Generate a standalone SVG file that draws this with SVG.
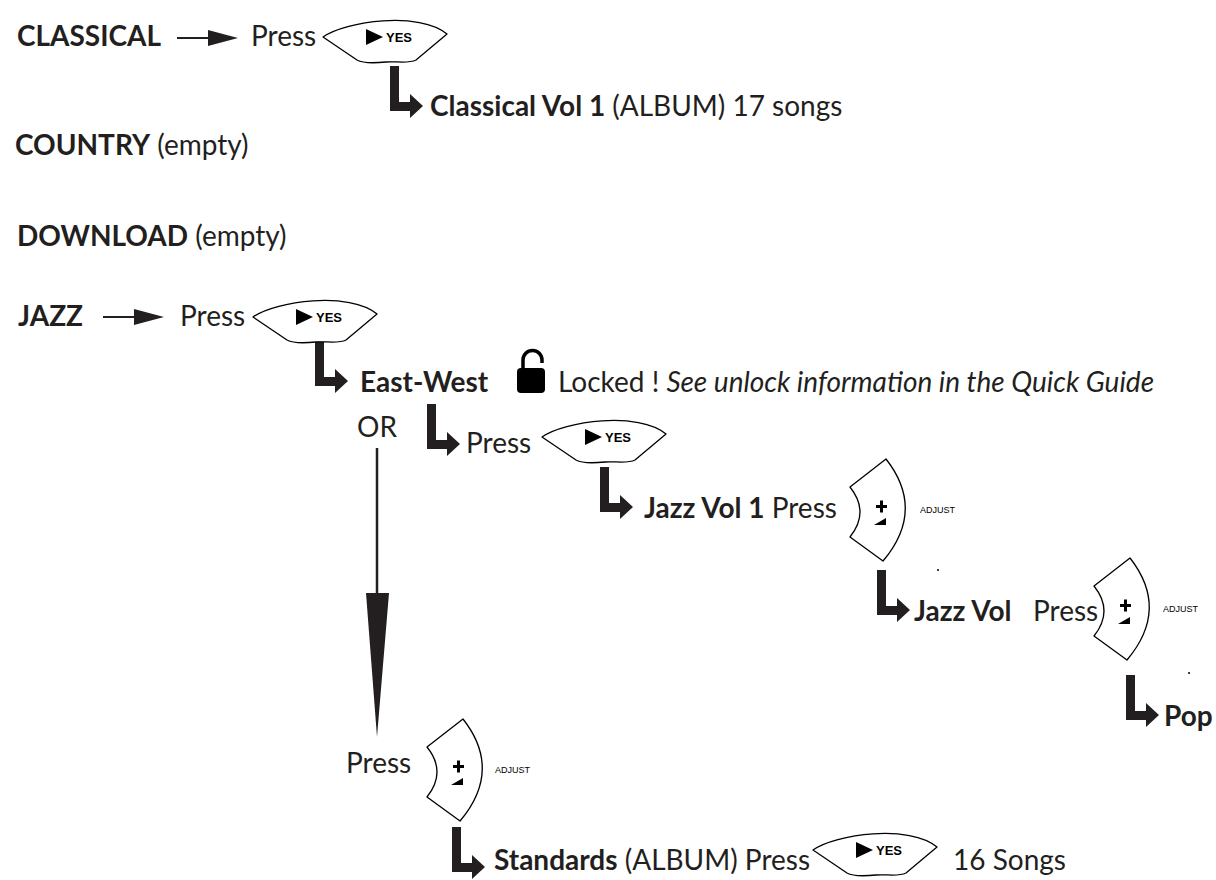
<svg xmlns="http://www.w3.org/2000/svg" xmlns:xlink="http://www.w3.org/1999/xlink" width="1216" height="880" viewBox="0 0 1216 880">
<style>
text{fill:#231f20}
.b{font-family:Lato,"Open Sans","Liberation Sans",sans-serif;font-weight:bold;font-size:28px}
.r{font-family:Lato,"Open Sans","Liberation Sans",sans-serif;font-size:28px}
.bb{font-weight:bold}
.it{font-style:italic}
.yes{font-family:"Liberation Sans",Arial,sans-serif;font-weight:bold;font-size:13px;fill:#000}
.adj{font-family:"Liberation Sans",Arial,sans-serif;font-size:9px;fill:#000}
.btn{fill:#fff;stroke:#000;stroke-width:1.3;stroke-linejoin:round}
.blk{fill:#231f20}
.ln{stroke:#231f20;stroke-width:2.5;fill:none}
</style>
<defs>
<g id="yesBtn">
<path class="btn" d="M3,22 C25,6 100,-4 127,19 L96,45 C88,49 76,46 66,47 C56,48 44,49 37,45 Z"/>
<polygon points="46,14 63,22 46,30" fill="#000"/>
<text class="yes" x="66" y="27">YES</text>
</g>
<g id="adjBtn">
<path class="btn" d="M40,1 Q80,52 37,103 L4,79 Q24,54 4,29 Z"/>
<rect x="30" y="47" width="11" height="3" fill="#000"/>
<rect x="34" y="42.5" width="3" height="12" fill="#000"/>
<polygon points="28,67 40,60 40,67" fill="#000"/>
</g>
<path id="larrow" class="blk" d="M0,0 H9 V36 H20 V28 L33,40 L20,52 V45 H0 Z"/>
<path id="thinArrow" class="blk" d="M0,-1 H31 V-8 L61,0 L31,8 V1 H0 Z"/>
</defs>

<g id="connectors">
<use xlink:href="#thinArrow" x="177" y="38"/>
<use xlink:href="#thinArrow" x="103" y="317"/>
<use xlink:href="#larrow" x="390" y="66"/>
<use xlink:href="#larrow" x="315" y="341"/>
<use xlink:href="#larrow" x="427" y="404"/>
<use xlink:href="#larrow" x="600" y="467"/>
<use xlink:href="#larrow" x="877" y="570"/>
<use xlink:href="#larrow" x="1126" y="675"/>
<use xlink:href="#larrow" x="452" y="827"/>
<line class="ln" x1="377" y1="448" x2="377" y2="595"/>
<polygon class="blk" points="366,593 389,593 377,737"/>
</g>

<g id="classical">
<text class="b" x="17" y="46">CLASSICAL</text>
<text class="r" x="251" y="46">Press</text>
<use xlink:href="#yesBtn" x="320" y="15"/>
</g>
<g id="classical-vol1">
<text class="r" x="430" y="116"><tspan class="bb">Classical Vol 1</tspan> (ALBUM) 17 songs</text>
</g>
<g id="country">
<text class="r" x="15" y="155"><tspan class="bb">COUNTRY</tspan> (empty)</text>
</g>
<g id="download">
<text class="r" x="17" y="246"><tspan class="bb">DOWNLOAD</tspan> (empty)</text>
</g>
<g id="jazz">
<text class="b" x="18" y="326">JAZZ</text>
<text class="r" x="180" y="326">Press</text>
<use xlink:href="#yesBtn" x="250" y="295"/>
</g>
<g id="east-west">
<text class="b" x="360" y="392">East-West</text>
<rect x="517" y="368" width="28" height="25" rx="4" fill="#000"/>
<path d="M523,369 V360 A9.5,9.5 0 0 1 542,360 V363" fill="none" stroke="#000" stroke-width="3.5"/>
<text class="r" x="558" y="392">Locked ! <tspan class="it">See unlock information in the Quick Guide</tspan></text>
</g>
<g id="or">
<text class="r" x="357" y="437">OR</text>
</g>
<g id="press-yes">
<text class="r" x="466" y="453">Press</text>
<use xlink:href="#yesBtn" x="539" y="415"/>
</g>
<g id="jazz-vol1">
<text class="r" x="644" y="518"><tspan class="bb">Jazz Vol 1</tspan> Press</text>
<use xlink:href="#adjBtn" x="846" y="458"/>
<text class="adj" x="920" y="513">ADJUST</text>
<circle cx="938" cy="570" r="1" fill="#000"/>
</g>
<g id="jazz-vol">
<text class="b" x="914" y="621">Jazz Vol</text>
<text class="r" x="1033" y="621">Press</text>
<use xlink:href="#adjBtn" x="1090" y="557"/>
<text class="adj" x="1163" y="612">ADJUST</text>
<circle cx="1189" cy="673" r="1" fill="#000"/>
</g>
<g id="pop">
<text class="b" x="1164" y="726">Pop</text>
</g>
<g id="press-adjust">
<text class="r" x="346" y="773">Press</text>
<use xlink:href="#adjBtn" x="423" y="718"/>
<text class="adj" x="495" y="773">ADJUST</text>
</g>
<g id="standards">
<text class="r" x="494" y="870"><tspan class="bb">Standards</tspan> (ALBUM) Press</text>
<use xlink:href="#yesBtn" x="810" y="828"/>
<text class="r" x="953" y="870">16 Songs</text>
</g>
</svg>
